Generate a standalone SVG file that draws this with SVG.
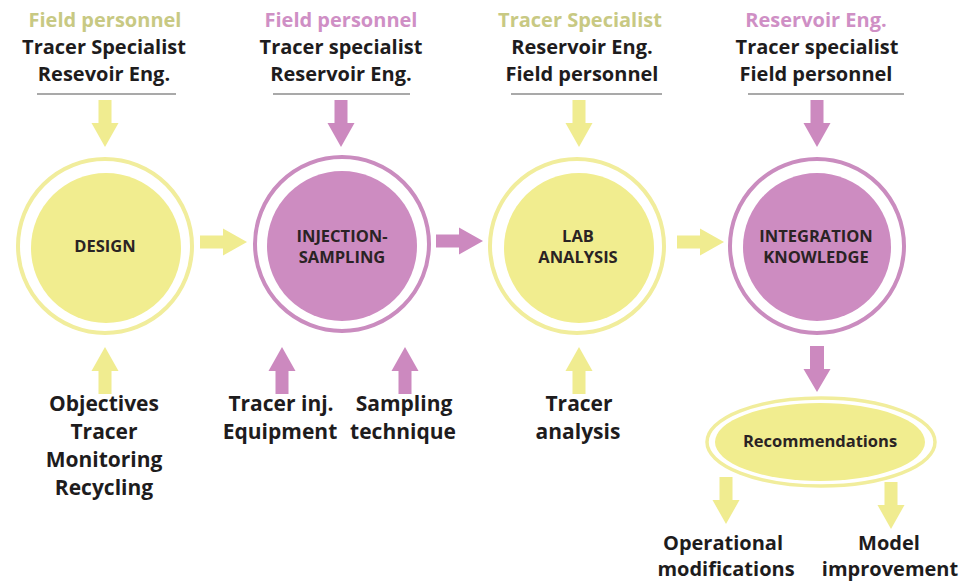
<svg xmlns="http://www.w3.org/2000/svg" xmlns:xlink="http://www.w3.org/1999/xlink" width="975" height="583" viewBox="0 0 975 583">
  <style>
    text { font-family: "Open Sans", "Noto Sans", "Liberation Sans", sans-serif; font-weight: 700; text-anchor: middle; }
    .hdr { font-size: 20px; fill: #1e1c1d; }
    .hdr-y { fill: #c8c983; }
    .hdr-p { fill: #cf8fc5; }
    .lbl { font-size: 21px; fill: #1e1c1d; }
    .out { font-size: 20px; fill: #1e1c1d; }
    .core { font-size: 16.5px; fill: #2a2324; }
    .rule { stroke: #8c8c8c; stroke-width: 1.4; fill: none; }
    .ring-y { fill: none; stroke: #f1ed9c; stroke-width: 4; }
    .ring-p { fill: none; stroke: #ca8cbf; stroke-width: 4; }
    .fill-y { fill: #f1ed8f; }
    .fill-p { fill: #cd8cc1; }
    .arr-y { fill: #f0ec90; }
    .arr-p { fill: #cc89bf; }
  </style>
  <defs>
    <!-- block arrow pointing down, origin at top centre of the shaft -->
    <path id="arrow" d="M-6.5 0H6.5V23H13.5L0 47L-13.5 23H-6.5Z"/>
    <path id="arrow-short" d="M-7 0H7V23H13.5L0 46L-13.5 23H-7Z"/>
  </defs>

  <rect width="975" height="583" fill="#ffffff"/>

  <!-- role headers above each stage -->
  <g id="header-design">
    <text class="hdr hdr-y" x="105" y="27">Field personnel</text>
    <text class="hdr" x="104" y="54">Tracer Specialist</text>
    <text class="hdr" x="104" y="81">Resevoir Eng.</text>
    <line class="rule" x1="37" y1="94" x2="176" y2="94"/>
  </g>
  <g id="header-injection">
    <text class="hdr hdr-p" x="341" y="27">Field personnel</text>
    <text class="hdr" x="341" y="54">Tracer specialist</text>
    <text class="hdr" x="341" y="81">Reservoir Eng.</text>
    <line class="rule" x1="273" y1="94" x2="410" y2="94"/>
  </g>
  <g id="header-lab">
    <text class="hdr hdr-y" x="580" y="27">Tracer Specialist</text>
    <text class="hdr" x="582" y="54">Reservoir Eng.</text>
    <text class="hdr" x="582" y="81">Field personnel</text>
    <line class="rule" x1="511" y1="94" x2="662" y2="94"/>
  </g>
  <g id="header-integration">
    <text class="hdr hdr-p" x="816" y="27">Reservoir Eng.</text>
    <text class="hdr" x="817" y="54">Tracer specialist</text>
    <text class="hdr" x="816" y="81">Field personnel</text>
    <line class="rule" x1="748" y1="94" x2="904" y2="94"/>
  </g>

  <!-- stage circles -->
  <g id="design">
    <circle class="ring-y" cx="105" cy="246" r="87"/>
    <circle class="fill-y" cx="106" cy="248" r="75"/>
    <text class="core" x="105" y="252">DESIGN</text>
  </g>
  <g id="injection-sampling">
    <circle class="ring-p" cx="342" cy="244" r="87"/>
    <circle class="fill-p" cx="342" cy="246" r="75"/>
    <text class="core" x="342" y="242">INJECTION-</text>
    <text class="core" x="342" y="263">SAMPLING</text>
  </g>
  <g id="lab-analysis">
    <circle class="ring-y" cx="577" cy="246" r="87"/>
    <circle class="fill-y" cx="579" cy="248" r="75"/>
    <text class="core" x="578" y="242">LAB</text>
    <text class="core" x="578" y="263">ANALYSIS</text>
  </g>
  <g id="integration-knowledge">
    <circle class="ring-p" cx="817" cy="246" r="87"/>
    <circle class="fill-p" cx="817" cy="247" r="74"/>
    <text class="core" x="816" y="242">INTEGRATION</text>
    <text class="core" x="816" y="263">KNOWLEDGE</text>
  </g>
  <g id="recommendations">
    <ellipse cx="821" cy="442" rx="114" ry="44" fill="none" stroke="#f1ed9c" stroke-width="3.5"/>
    <ellipse class="fill-y" cx="820" cy="442" rx="105" ry="39"/>
    <text x="820" y="447" font-size="16.5" fill="#2a2324">Recommendations</text>
  </g>

  <!-- inputs below the stages -->
  <g id="inputs-design">
    <text class="lbl" x="104" y="411">Objectives</text>
    <text class="lbl" x="104" y="439">Tracer</text>
    <text class="lbl" x="104" y="467">Monitoring</text>
    <text class="lbl" x="104" y="495">Recycling</text>
  </g>
  <g id="inputs-injection">
    <text class="lbl" x="281" y="411">Tracer inj.</text>
    <text class="lbl" x="280" y="439">Equipment</text>
    <text class="lbl" x="404" y="411">Sampling</text>
    <text class="lbl" x="403" y="439">technique</text>
  </g>
  <g id="inputs-lab">
    <text class="lbl" x="579" y="411">Tracer</text>
    <text class="lbl" x="578" y="439">analysis</text>
  </g>

  <!-- outcomes -->
  <g id="operational-modifications">
    <text class="out" x="723" y="550">Operational</text>
    <text class="out" x="726" y="576">modifications</text>
  </g>
  <g id="model-improvement">
    <text class="out" x="889" y="550">Model</text>
    <text class="out" x="890" y="576">improvement</text>
  </g>

  <!-- connectors -->
  <g id="connectors">
    <use xlink:href="#arrow" class="arr-y" transform="translate(105,100)"/>
    <use xlink:href="#arrow" class="arr-p" transform="translate(341,100)"/>
    <use xlink:href="#arrow" class="arr-y" transform="translate(579,100)"/>
    <use xlink:href="#arrow" class="arr-p" transform="translate(817,100)"/>

    <use xlink:href="#arrow" class="arr-y" transform="translate(200,242) rotate(-90)"/>
    <use xlink:href="#arrow" class="arr-p" transform="translate(436,241) rotate(-90)"/>
    <use xlink:href="#arrow" class="arr-y" transform="translate(677,242) rotate(-90)"/>

    <use xlink:href="#arrow" class="arr-y" transform="translate(105,394) rotate(180)"/>
    <use xlink:href="#arrow" class="arr-p" transform="translate(282,394) rotate(180)"/>
    <use xlink:href="#arrow" class="arr-p" transform="translate(405,394) rotate(180)"/>
    <use xlink:href="#arrow" class="arr-y" transform="translate(579,394) rotate(180)"/>

    <use xlink:href="#arrow-short" class="arr-p" transform="translate(817,346)"/>
    <use xlink:href="#arrow" class="arr-y" transform="translate(726,477)"/>
    <use xlink:href="#arrow" class="arr-y" transform="translate(891,482)"/>
  </g>
</svg>
